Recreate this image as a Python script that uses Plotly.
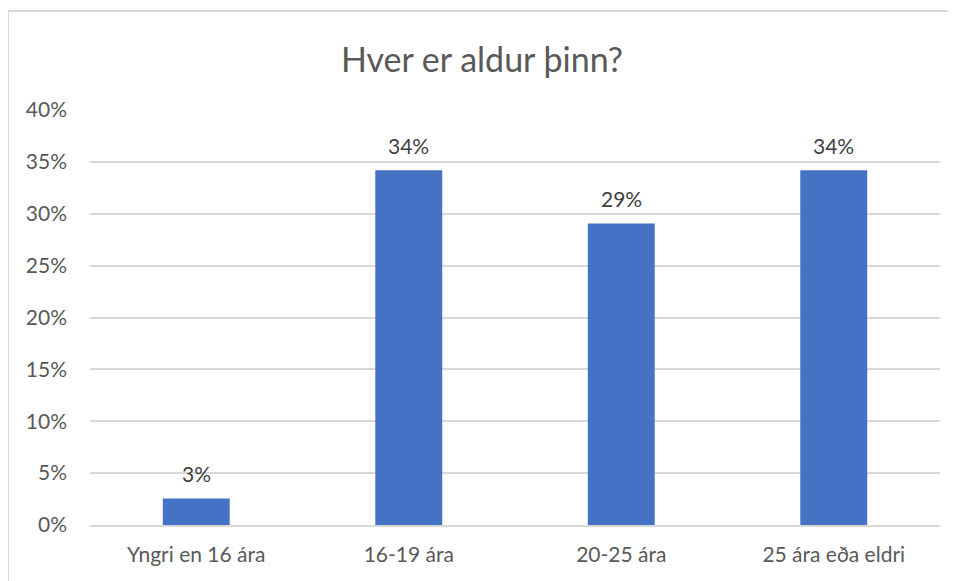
import plotly.graph_objects as go

# survey answers, share of respondents in percent
categories = ['Yngri en 16 ára', '16-19 ára', '20-25 ára', '25 ára eða eldri']
shares = [2.56, 34.19, 29.06, 34.19]
y_ticks = [0, 5, 10, 15, 20, 25, 30, 35, 40]
y_tick_labels = [f'{t}%' for t in y_ticks]

FONT = 'Lato, Open Sans, DejaVu Sans, sans-serif'

fig = go.Figure(go.Bar(
    x=categories,
    y=shares,
    marker=dict(color='#4472C4', line=dict(width=0))))

# value labels sit a bit above each bar, like the spreadsheet chart
for cat, val in zip(categories, shares):
    fig.add_annotation(x=cat, y=val, text=f'{val:.0f}%', showarrow=False,
                       yanchor='middle', yshift=25,
                       font=dict(size=21, color='#404040', family=FONT))

fig.update_layout(
    width=948, height=573,
    margin=dict(l=82, r=16, t=102, b=56),
    paper_bgcolor='white',
    plot_bgcolor='white',
    bargap=0.685,
    showlegend=False,
    font=dict(family=FONT, color='#595959'),
    title=dict(text='Hver er aldur þinn?', x=0.5, xanchor='center',
               y=0.909, yanchor='middle',
               font=dict(size=34, color='#595959', family=FONT)),
    shapes=[dict(type='rect', xref='paper', yref='paper',
                 x0=-82 / 850, x1=1.2, y0=-0.3, y1=1 + 99 / 415,
                 line=dict(color='#d9d9d9', width=2), layer='below')])

fig.update_yaxes(range=[0, 40], tickvals=y_ticks, ticktext=y_tick_labels,
                 showgrid=True, gridcolor='#d9d9d9', gridwidth=1.5,
                 zeroline=False, showline=False, ticks='',
                 ticklabelstandoff=22,
                 tickfont=dict(size=21, color='#595959'))
fig.update_xaxes(showline=True, linecolor='#d9d9d9', linewidth=1.5,
                 ticks='', showgrid=False, ticklabelstandoff=10,
                 tickfont=dict(size=21, color='#595959'))

fig.write_html("out.html")
